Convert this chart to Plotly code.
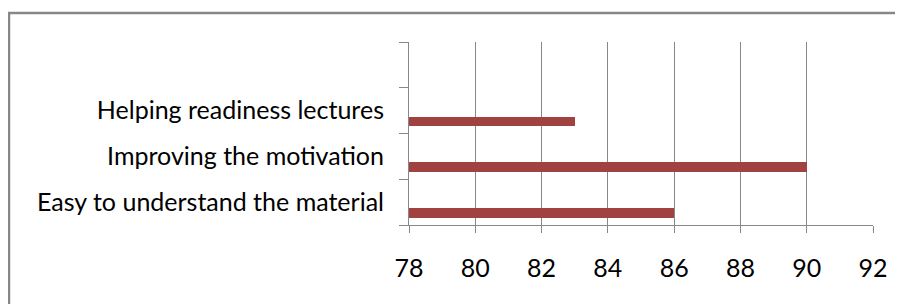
import plotly.graph_objects as go

categories = ["Easy to understand the material", "Improving the motivation", "Helping readiness lectures", " "]
values = [86, 90, 83, None]
x_ticks = [78, 80, 82, 84, 86, 88, 90, 92]
base_value = 78

# page body has an 8px margin; figure coordinates are offset by it
OFF = 8
W, H = 903 - OFF, 304 - OFF
L, R, T, B = 409 - OFF, 873 - OFF, 42 - OFF, 225 - OFF

fig = go.Figure()
fig.add_trace(go.Bar(
    y=categories,
    x=[v - base_value if v is not None else None for v in values],
    base=base_value, orientation="h",
    width=0.21, offset=-0.34,
    marker=dict(color="#A04240", line=dict(width=0)),
    hoverinfo="skip",
))

grid = "#888888"
fig.update_layout(
    width=W, height=H,
    margin=dict(l=L, r=W - R, t=T, b=H - B, pad=0),
    paper_bgcolor="white", plot_bgcolor="white",
    showlegend=False,
    font=dict(family="Lato, Calibri, sans-serif", size=25, color="black"),
    bargap=0,
)
fig.update_xaxes(
    range=[78, 92], tickvals=x_ticks, ticktext=[str(t) for t in x_ticks],
    showgrid=True, gridcolor=grid, gridwidth=1,
    showline=True, linecolor=grid, linewidth=1,
    ticks="outside", ticklen=7, tickcolor=grid, tickwidth=1,
    ticklabelstandoff=14, zeroline=False,
)
fig.update_yaxes(
    type="category", categoryorder="array", categoryarray=categories,
    range=[-0.5, 3.5], tickson="boundaries",
    showgrid=False, showline=True, linecolor=grid, linewidth=1,
    ticks="outside", ticklen=9, tickcolor=grid, tickwidth=1,
    ticklabelstandoff=19,
)
# outer chart border: only the top and left edges are inside the picture
bx0, bx1, by0, by1 = 9 - OFF, 920 - OFF, 13 - OFF, 320 - OFF
px = lambda v: (v - L) / (R - L)
py = lambda v: (B - v) / (B - T)
fig.add_shape(type="path", xref="paper", yref="paper",
              path=f"M {px(bx0)},{py(by1)} L {px(bx0)},{py(by0)} L {px(bx1)},{py(by0)}",
              line=dict(color="#878787", width=2.5), layer="below")

fig.write_html("out.html")
